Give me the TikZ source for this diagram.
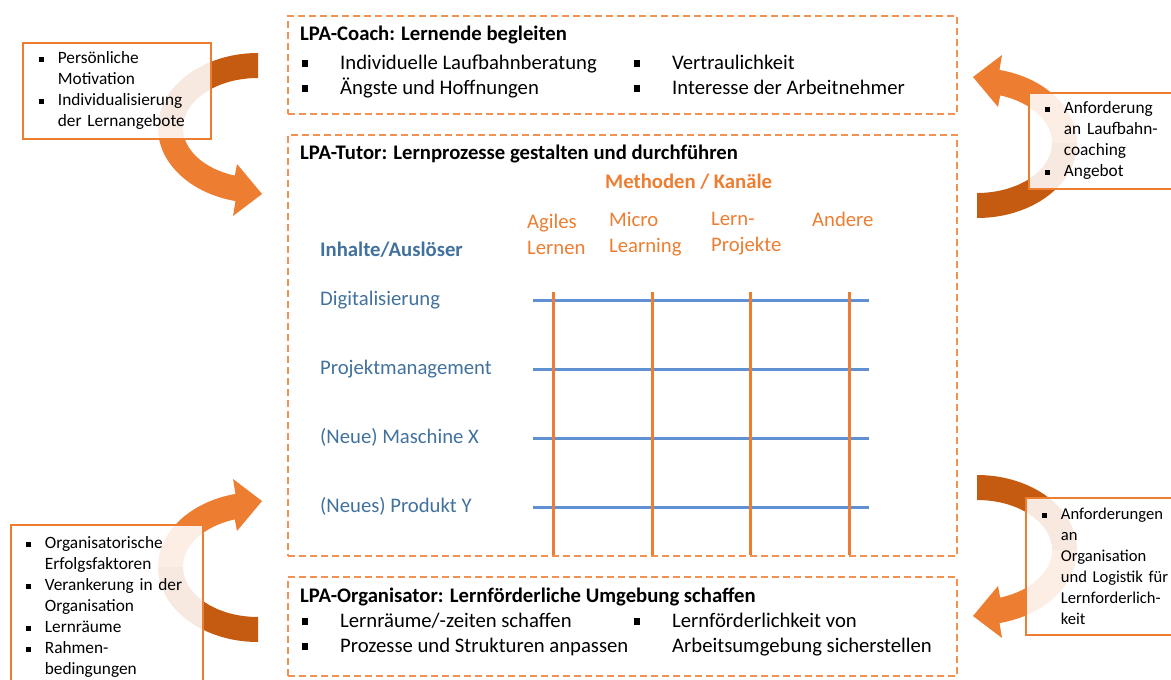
\documentclass[tikz,border=0pt]{standalone}
\usepackage{fontspec}
\setmainfont{Carlito}

\definecolor{lpaorange}{RGB}{237,125,49}
\definecolor{lpadark}{RGB}{197,90,17}
\definecolor{lpadash}{RGB}{242,146,82}
\definecolor{lpablue}{RGB}{95,145,210}
\definecolor{lpatext}{RGB}{65,113,156}

\newcommand{\sq}{\rule[0.12em]{0.3em}{0.3em}}
\newcommand{\itm}{\makebox[19pt][l]{\sq}}
\newcommand{\ind}{\hspace*{19pt}}

\tikzset{
    panel/.style={draw=lpadash, line width=2pt, dash pattern=on 7pt off 4pt},
    sidebox/.style={draw=lpaorange, line width=1.8pt, fill=white, fill opacity=0.87,
        text opacity=1, align=left, anchor=north west, inner xsep=16pt,
        font=\fontsize{17.3}{21}\selectfont},
    txt/.style={anchor=west, inner sep=0pt, text height=14pt, text depth=4pt,
        font=\fontsize{20.7}{26}\selectfont},
    title/.style={txt, font=\fontsize{20.7}{26}\selectfont\bfseries},
    bogen/.pic={
        \fill[lpadark] (0,-75) arc[start angle=-90, end angle=-180, x radius=100, y radius=75]
            -- (-75,0) arc[start angle=180, end angle=270, x radius=75, y radius=50] -- cycle;
        \fill[lpaorange] (-100,0) arc[start angle=180, end angle=103, x radius=100, y radius=75]
            -- (-25,88) -- (4,66) -- (-21,36) -- (-23.2,47.6)
            arc[start angle=108, end angle=180, x radius=75, y radius=50] -- cycle;
    }
}

\begin{document}
\begin{tikzpicture}[x=1pt, y=-1pt]
    \useasboundingbox (0,0) rectangle (1171,680);

    % curved arrows behind the side boxes
    \pic at (258,128) {bogen};
    \pic[xscale=-1, yscale=-1] at (977,143) {bogen};
    \pic[yscale=-1] at (258,567) {bogen};
    \pic[xscale=-1] at (977,550) {bogen};

    % side boxes
    \node[sidebox, text width=156pt, minimum height=96pt] (motiv) at (22,42)
        {\itm Persönliche\\\ind Motivation\\\itm Individualisierung\\\ind der Lernangebote};
    \node[sidebox, text width=140pt, minimum height=96pt] (laufbahn) at (1028,92)
        {\itm Anforderung\\\ind an Laufbahn-\\\ind coaching\\\itm Angebot};
    \node[sidebox, text width=162pt, inner xsep=15pt, inner ysep=12pt] (erfolg) at (10,524)
        {\itm Organisatorische\\\ind Erfolgsfaktoren\\\itm Verankerung in der\\\ind Organisation\\%
         \itm Lernräume\\\itm Rahmen-\\\ind bedingungen};
    \node[sidebox, text width=150pt, minimum height=137pt, font=\fontsize{16.6}{21}\selectfont] (logistik) at (1025,497)
        {\itm Anforderungen\\\ind an\\\ind Organisation\\\ind und Logistik für\\\ind Lernforderlich-\\\ind keit};

    % main panels
    \node[panel, minimum width=669pt, minimum height=98pt] (coach) at (622.5,65) {};
    \node[panel, minimum width=669pt, minimum height=421pt] (tutor) at (622.5,345.5) {};
    \node[panel, minimum width=669pt, minimum height=99pt] (orga) at (622.5,626.5) {};

    % coach
    \node[title] (coachtitle) at (300,35) {LPA-Coach: Lernende begleiten};
    \foreach \t [count=\i] in {Individuelle Laufbahnberatung, Ängste und Hoffnungen}
        \node[txt] (coachL\i) at (302,39+25*\i) {\makebox[38pt][l]{\sq}\t};
    \foreach \t [count=\i] in {Vertraulichkeit, Interesse der Arbeitnehmer}
        \node[txt] (coachR\i) at (634,39+25*\i) {\makebox[38pt][l]{\sq}\t};

    % tutor
    \node[title] (tutortitle) at (300,154) {LPA-Tutor: Lernprozesse gestalten und durchführen};
    \node[title, text=lpaorange] (methoden) at (605,183) {Methoden / Kanäle};
    \node[title, text=lpatext] (inhalte) at (320,251) {Inhalte/Auslöser};
    \foreach \t/\x [count=\i] in {Agiles\\Lernen/527, Micro\\Learning/609, Lern-\\Projekte/711}
        \node[txt, text=lpaorange, align=left, text height=, text depth=] (kanal\i) at (\x,234) {\t};
    \node[txt, text=lpaorange] (kanal4) at (812,221) {Andere};

    \foreach \t [count=\i] in {Digitalisierung, Projektmanagement, {(Neue) Maschine X}, {(Neues) Produkt Y}} {
        \node[txt, text=lpatext] (thema\i) at (320,231+69*\i) {\t};
        \draw[lpablue, line width=3pt] (533,231+69*\i) -- (869,231+69*\i);
    }
    \foreach \x in {553, 652, 750, 849}
        \draw[lpaorange, line width=3pt] (\x,292) -- (\x,555);

    % organisator
    \node[title] (orgatitle) at (300,597) {LPA-Organisator: Lernförderliche Umgebung schaffen};
    \node[txt] (orgaL1) at (302,622) {\makebox[38pt][l]{\sq}Lernräume/-zeiten schaffen};
    \node[txt] (orgaL2) at (302,647) {\makebox[38pt][l]{\sq}Prozesse und Strukturen anpassen};
    \node[txt] (orgaR1) at (634,622) {\makebox[38pt][l]{\sq}Lernförderlichkeit von};
    \node[txt] (orgaR2) at (672,647) {Arbeitsumgebung sicherstellen};
\end{tikzpicture}
\end{document}
